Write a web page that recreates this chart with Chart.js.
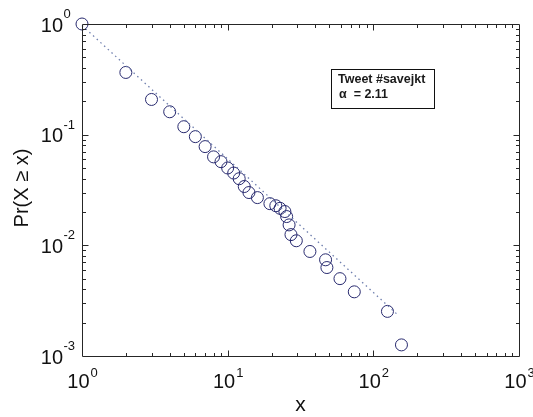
<!DOCTYPE html>
<html>
<head>
<meta charset="utf-8">
<script src="https://cdn.jsdelivr.net/npm/chart.js@4/dist/chart.umd.min.js"></script>
<style>
  html, body { margin: 0; padding: 0; background: #ffffff; }
  canvas { display: block; }
</style>
</head>
<body>
<canvas id="c" width="533" height="417"></canvas>
<script>
// ---- data ----
const xValues = [1, 2, 3, 4, 5, 6, 7, 8, 9, 10, 11, 12, 13, 14, 16, 19.5, 21.4, 22.9, 24.7, 25.4, 26.4, 27.2, 29.6, 36.7, 47, 48, 59, 74, 125, 156];
const yValues = [1, 0.365, 0.208, 0.161, 0.118, 0.096, 0.078, 0.063, 0.057, 0.050, 0.045, 0.040, 0.034, 0.030, 0.027, 0.0238, 0.0228, 0.0216, 0.0202, 0.0182, 0.0153, 0.0125, 0.0110, 0.0088, 0.0074, 0.0063, 0.0050, 0.0038, 0.00253, 0.00126];
const fitX = [1, 150];
const fitY = [0.97, 0.0023];
const xTickValues = [1, 10, 100, 1000];
const xTickExponents = ['0', '1', '2', '3'];
const yTickValues = [0.001, 0.01, 0.1, 1];
const yTickExponents = ['-3', '-2', '-1', '0'];
const xAxisTitle = 'x';
const yAxisTitle = 'Pr(X \u2265 x)';
const legendLines = ['Tweet #savejkt', '\u03b1  = 2.11'];

const FONT = '"Liberation Sans", Arial, sans-serif';

const framePlugin = {
  id: 'matlabFrame',
  afterDraw(chart) {
    const ctx = chart.ctx;
    const a = chart.chartArea;
    const xs = chart.scales.x, ys = chart.scales.y;
    ctx.save();
    ctx.strokeStyle = '#262626';
    ctx.lineWidth = 1;
    const L = Math.round(a.left) + 0.5, R = Math.round(a.right) + 0.5;
    const T = Math.round(a.top) + 0.5, B = Math.round(a.bottom) + 0.5;
    ctx.beginPath();
    ctx.rect(L, T, R - L, B - T);
    ctx.stroke();
    // ticks (inward, all four sides)
    ctx.beginPath();
    for (let d = 0; d < 3; d++) {
      for (let k = 1; k <= 9; k++) {
        const v = k * Math.pow(10, d);
        const len = k === 1 ? 6 : 3.5;
        const px = Math.round(xs.getPixelForValue(v)) + 0.5;
        if (k !== 1 || d > 0) {
          ctx.moveTo(px, B); ctx.lineTo(px, B - len);
          ctx.moveTo(px, T); ctx.lineTo(px, T + len);
        }
      }
    }
    for (let d = -3; d < 0; d++) {
      for (let k = 1; k <= 9; k++) {
        const v = k * Math.pow(10, d);
        const len = k === 1 ? 6 : 3.5;
        const py = Math.round(ys.getPixelForValue(v)) + 0.5;
        if (k !== 1 || d > -3) {
          ctx.moveTo(L, py); ctx.lineTo(L + len, py);
          ctx.moveTo(R, py); ctx.lineTo(R - len, py);
        }
      }
    }
    ctx.stroke();

    // tick labels
    ctx.fillStyle = '#111111';
    ctx.textBaseline = 'alphabetic';
    ctx.textAlign = 'left';
    const bigFont = '20px ' + FONT, smallFont = '13px ' + FONT;
    xTickValues.forEach((v, i) => {
      const px = xs.getPixelForValue(v);
      ctx.font = bigFont; const w1 = ctx.measureText('10').width;
      ctx.font = smallFont; const w2 = ctx.measureText(xTickExponents[i]).width;
      const start = px - (w1 + w2) / 2;
      ctx.font = bigFont; ctx.fillText('10', start, 388);
      ctx.font = smallFont; ctx.fillText(xTickExponents[i], start + w1 + 1, 377);
    });
    yTickValues.forEach((v, i) => {
      const py = ys.getPixelForValue(v);
      ctx.font = bigFont; const w1 = ctx.measureText('10').width;
      ctx.fillText('10', 63 - w1, py + 7.5);
      ctx.font = smallFont; ctx.fillText(yTickExponents[i], 63.5, py - 6);
    });

    // axis titles
    ctx.font = '21px ' + FONT;
    ctx.textAlign = 'center';
    ctx.fillText(xAxisTitle, (a.left + a.right) / 2, 411);
    ctx.save();
    ctx.translate(28, (a.top + a.bottom) / 2 - 2);
    ctx.rotate(-Math.PI / 2);
    ctx.font = '20px ' + FONT;
    ctx.fillText(yAxisTitle, 0, 0);
    ctx.restore();

    // legend box
    ctx.fillStyle = '#ffffff';
    ctx.fillRect(331, 69, 103, 39);
    ctx.strokeStyle = '#111111';
    ctx.strokeRect(331.5, 69.5, 103, 39);
    ctx.fillStyle = '#1a1a1a';
    ctx.textAlign = 'left';
    ctx.font = 'bold 12.5px ' + FONT;
    ctx.fillText(legendLines[0], 338, 82.5);
    ctx.fillText(legendLines[1], 339, 98);
    ctx.restore();
  }
};

new Chart(document.getElementById('c'), {
  type: 'scatter',
  data: {
    datasets: [
      {
        type: 'line',
        data: fitX.map((x, i) => ({ x: x, y: fitY[i] })),
        borderColor: '#6f7fae',
        borderWidth: 1.3,
        borderDash: [1.5, 3.5],
        pointRadius: 0,
        fill: false,
        clip: false
      },
      {
        data: xValues.map((x, i) => ({ x: x, y: yValues[i] })),
        pointStyle: 'circle',
        pointRadius: 6,
        pointBorderWidth: 1,
        pointBorderColor: '#27296e',
        pointBackgroundColor: 'rgba(0,0,0,0)',
        showLine: false,
        clip: false
      }
    ]
  },
  options: {
    responsive: false,
    animation: false,
    devicePixelRatio: 1,
    layout: { padding: { left: 82, right: 14, top: 24, bottom: 61 } },
    plugins: { legend: { display: false }, tooltip: { enabled: false } },
    scales: {
      x: { type: 'logarithmic', min: 1, max: 1000, display: false },
      y: { type: 'logarithmic', min: 0.001, max: 1, display: false }
    }
  },
  plugins: [framePlugin]
});
</script>
</body>
</html>
